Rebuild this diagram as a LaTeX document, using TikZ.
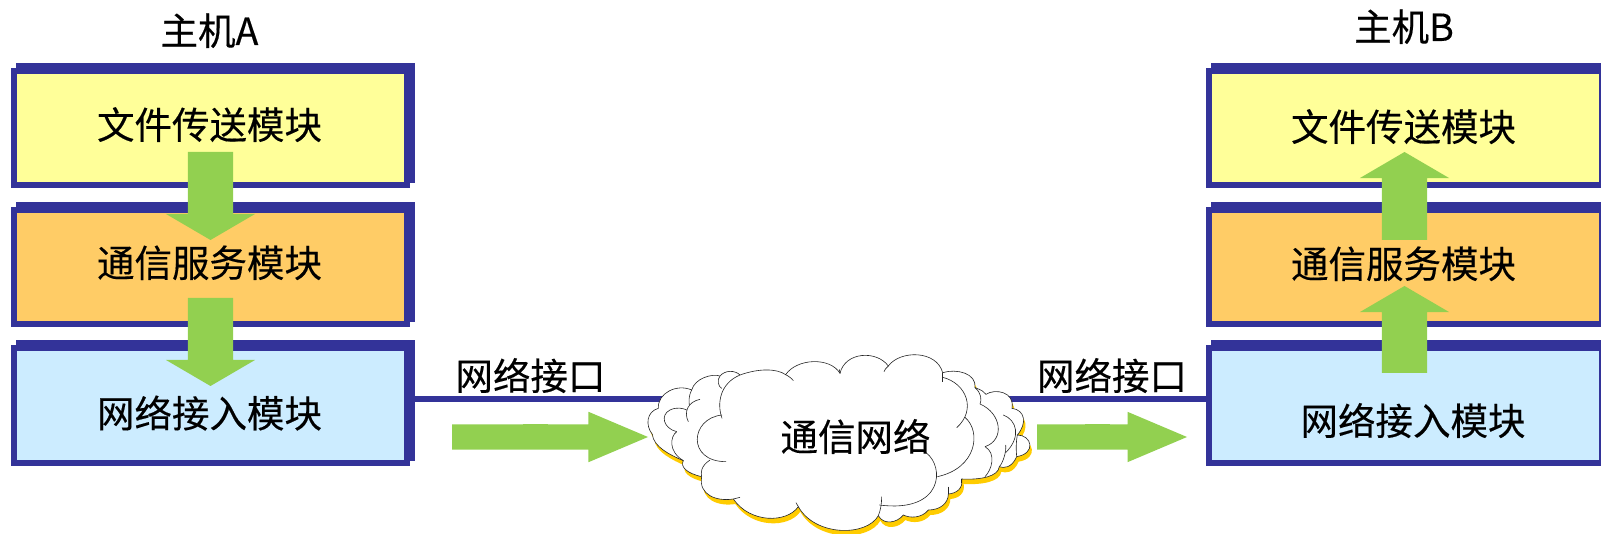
\documentclass[tikz,border=0pt]{standalone}
\usepackage{fontspec}
\setmainfont[FakeBold=0.3]{Noto Sans CJK SC}
\usetikzlibrary{shapes.arrows,shadows}
\definecolor{navy}{HTML}{333399}
\definecolor{arrowgreen}{HTML}{92D050}
\definecolor{paleyellow}{HTML}{FFFF99}
\definecolor{paleorange}{HTML}{FFCC66}
\definecolor{paleblue}{HTML}{CCECFF}
\definecolor{cloudgold}{HTML}{FFCC00}
\newcommand{\shaftv}{\rule{45pt}{45pt}}
\newcommand{\shafth}{\rule{25pt}{25pt}}
\tikzset{
  modbox/.style={rectangle,draw=navy,line width=6pt,inner sep=0pt,outer sep=0pt,
    minimum width=393pt,minimum height=114pt,
    copy shadow={shadow xshift=5pt,shadow yshift=5pt,draw=navy,fill=navy}},
  label37/.style={anchor=base,inner sep=0pt,outer sep=0pt,font=\fontsize{37.5}{40}\selectfont},
  vertarrow/.style={single arrow,fill=arrowgreen,draw=none,text=arrowgreen,inner sep=0pt,outer sep=0pt,
    minimum height=88pt,single arrow head extend=22pt,
    single arrow tip angle=119.4,single arrow head indent=0pt,anchor=tail},
  horarrow/.style={single arrow,fill=arrowgreen,draw=none,text=arrowgreen,inner sep=0pt,outer sep=0pt,
    single arrow head extend=12.5pt,
    single arrow tip angle=45.9,single arrow head indent=0pt,anchor=tail},
  linkline/.style={draw=navy,line width=6pt},
  cloudline/.style={draw=black!85,line width=0.6pt}
}
\newcommand{\cloudoutline}{(115,205)
 .. controls (112,160) and (170,130) .. (215,150)
 .. controls (225,115) and (275,100) .. (300,108)
 .. controls (315,90) and (345,90) .. (360,105)
 .. controls (415,85) and (470,85) .. (497,104)
 .. controls (530,55) and (630,50) .. (660,100)
 .. controls (675,35) and (770,30) .. (805,78)
 .. controls (840,30) and (950,30) .. (968,98)
 .. controls (1010,85) and (1070,100) .. (1065,143)
 .. controls (1085,150) and (1092,155) .. (1098,163)
 .. controls (1125,145) and (1185,155) .. (1176,205)
 .. controls (1215,210) and (1222,250) .. (1192,285)
 .. controls (1235,285) and (1250,340) .. (1190,350)
 .. controls (1175,385) and (1150,385) .. (1138,380)
 .. controls (1135,410) and (1080,420) .. (1025,417)
 .. controls (1030,445) and (1010,460) .. (985,462)
 .. controls (985,490) and (960,510) .. (925,510)
 .. controls (905,535) and (870,535) .. (850,525)
 .. controls (830,550) and (790,555) .. (775,527)
 .. controls (740,590) and (585,590) .. (535,500)
 .. controls (500,550) and (390,550) .. (340,477)
 .. controls (290,485) and (235,465) .. (245,410)
 .. controls (200,400) and (180,380) .. (190,362)
 .. controls (150,345) and (100,320) .. (97,283)
 .. controls (75,255) and (80,215) .. (115,205) -- cycle}
\begin{document}
\begin{tikzpicture}[x=1pt,y=-1pt]
\useasboundingbox (0,0) rectangle (1601,534);
\fill[white] (0,0) rectangle (1601,534);
\clip (0,0) rectangle (1601,534);
% boxes
\node[modbox,fill=paleyellow] (a1) at (210.5,128) {};
\node[modbox,fill=paleorange] (a2) at (210.5,267) {};
\node[modbox,fill=paleblue]   (a3) at (210.5,405.5) {};
\node[modbox,fill=paleyellow] (b1) at (1405,128) {};
\node[modbox,fill=paleorange] (b2) at (1405,267) {};
\node[modbox,fill=paleblue]   (b3) at (1405,405.5) {};
% link lines
\coordinate (cloudL) at (700,399);
\coordinate (cloudR) at (1000,399);
\draw[linkline] (a3.east |- cloudL) -- (cloudL);
\draw[linkline] (cloudR) -- (b3.west |- cloudR);
% cloud
\begin{scope}[shift={(620,340)},x=0.33333pt,y=-0.33333pt]
\fill[cloudgold,xshift=2pt,yshift=-5pt] \cloudoutline;
\filldraw[fill=white,cloudline] \cloudoutline;
\draw[cloudline] (215,150) .. controls (205,170) and (207,185) .. (208,195);
\draw[cloudline] (240,178) .. controls (205,185) and (190,215) .. (205,245);
\draw[cloudline] (300,108) .. controls (290,120) and (295,140) .. (305,145);
\draw[cloudline] (170,275) .. controls (130,265) and (120,225) .. (150,210) .. controls (170,200) and (190,205) .. (200,210);
\draw[cloudline] (170,275) .. controls (150,290) and (145,335) .. (190,362);
\draw[cloudline] (306,235) .. controls (290,190) and (300,130) .. (360,105);
\draw[cloudline] (306,225) .. controls (210,235) and (200,365) .. (318,365);
\draw[cloudline] (270,360) .. controls (240,380) and (243,400) .. (245,410);
\draw[cloudline] (340,477) -- (360,472);
\draw[cloudline] (497,104) .. controls (505,108) and (515,115) .. (520,122);
\draw[cloudline] (660,100) -- (658,88);
\draw[cloudline] (805,78) .. controls (798,83) and (794,90) .. (792,95);
\draw[cloudline] (968,98) -- (968,125);
\draw[cloudline] (968,112) .. controls (1040,130) and (1070,210) .. (1010,263);
\draw[cloudline] (1035,232) .. controls (1085,275) and (1070,385) .. (952,410);
\draw[cloudline] (918,338) .. controls (975,380) and (970,520) .. (778,495);
\draw[cloudline] (785,470) .. controls (785,490) and (782,510) .. (775,527);
\draw[cloudline] (535,500) -- (528,488);
\draw[cloudline] (1065,143) .. controls (1085,160) and (1085,180) .. (1080,192);
\draw[cloudline] (1080,192) .. controls (1145,220) and (1155,300) .. (1095,320);
\draw[cloudline] (1095,320) .. controls (1130,340) and (1115,390) .. (1095,410);
\draw[cloudline] (1150,225) .. controls (1190,240) and (1205,290) .. (1157,338);
\draw[cloudline] (1157,315) .. controls (1160,335) and (1148,370) .. (1138,380);
\draw[cloudline] (1192,285) .. controls (1188,305) and (1188,330) .. (1190,350);
\draw[cloudline] (1025,417) -- (1025,428);
\draw[cloudline] (985,440) -- (985,462);
\end{scope}
% arrows
\node[vertarrow,shape border rotate=270] (arrA1) at (210.5,152) {\shaftv};
\node[vertarrow,shape border rotate=270] (arrA2) at (210.5,298) {\shaftv};
\node[vertarrow,shape border rotate=90] (arrB1) at (1404.5,240) {\shaftv};
\node[vertarrow,shape border rotate=90,minimum height=87pt] (arrB2) at (1404.5,373) {\shaftv};
\node[horarrow,minimum height=196pt] (arrL) at (452,437) {\shafth};
\node[horarrow,minimum height=150pt] (arrR) at (1037,437) {\shafth};
% texts
\node[label37] (tA1) at (209.5,139) {文件传送模块};
\node[label37] (tA2) at (209.5,277) {通信服务模块};
\node[label37] (tA3) at (209.5,427.5) {网络接入模块};
\node[label37] (tB1) at (1403.5,141) {文件传送模块};
\node[label37] (tB2) at (1403.5,278) {通信服务模块};
\node[label37] (tB3) at (1413,435) {网络接入模块};
\node[label37] (tCloud) at (855.5,451) {通信网络};
\node[label37] (tL) at (530.5,390) {网络接口};
\node[label37] (tR) at (1112,390) {网络接口};
\node[label37] (hostA) at (209.5,45) {主机A};
\node[label37] (hostB) at (1404,41) {主机B};
\end{tikzpicture}
\end{document}
